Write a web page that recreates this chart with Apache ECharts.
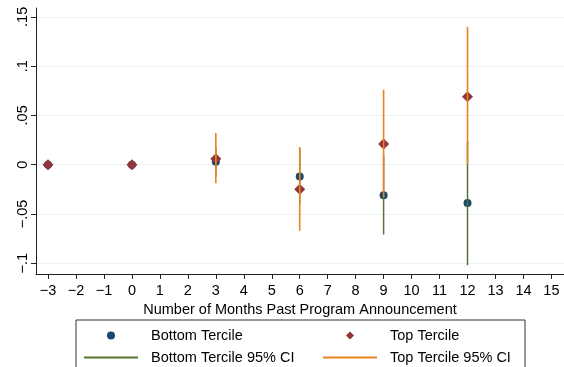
<!DOCTYPE html>
<html>
<head>
<meta charset="utf-8">
<script src="https://cdn.jsdelivr.net/npm/echarts@6/dist/echarts.min.js"></script>
<style>
  html, body { margin: 0; padding: 0; background: #fff; }
  #chart { width: 564px; height: 367px; }
</style>
</head>
<body>
<div id="chart"></div>
<script>
// months relative to announcement
var months = [-3, 0, 3, 6, 9, 12];
// point estimates
var bottomTercile = [0, 0, 0.003, -0.012, -0.031, -0.039];
var topTercile = [0, 0, 0.006, -0.025, 0.021, 0.069];
// 95% CI bounds (only for months 3..12)
var ciMonths = [3, 6, 9, 12];
var bottomLo = [-0.012, -0.040, -0.071, -0.102];
var bottomHi = [0.018, 0.016, 0.009, 0.024];
var topLo = [-0.019, -0.067, -0.033, 0.000];
var topHi = [0.032, 0.018, 0.076, 0.140];
// tick labels
var xTicks = [-3, -2, -1, 0, 1, 2, 3, 4, 5, 6, 7, 8, 9, 10, 11, 12, 13, 14, 15];
var yTicks = [-0.1, -0.05, 0, 0.05, 0.1, 0.15];
var yTickLabels = ['\u2212.1', '\u2212.05', '0', '.05', '.1', '.15'];

var font = '"Liberation Sans", Arial, sans-serif';
var fs = 14.5;
var diamondIcon = 'path://M5,0L10,5L5,10L0,5Z';

function pairs(xs, ys) {
  return xs.map(function (x, i) { return [x, ys[i]]; });
}
function ciSegments(xs, lo, hi) {
  var out = [];
  xs.forEach(function (x, i) {
    out.push([x, lo[i]], [x, hi[i]], [x, '-']);
  });
  return out;
}

var legendBase = {
  orient: 'vertical',
  top: 323,
  height: 60,
  itemWidth: 54,
  itemHeight: 8,
  itemGap: 7,
  symbolKeepAspect: true,
  textStyle: { color: '#000', fontFamily: font, fontSize: fs, padding: [0, 0, 0, 8] }
};

var chart = echarts.init(document.getElementById('chart'));
chart.setOption({
  animation: false,
  backgroundColor: '#fff',
  grid: { left: 36, right: 0, top: 8, bottom: 93 },
  xAxis: {
    type: 'value',
    min: -3.43,
    max: 15.45,
    name: 'Number of Months Past Program Announcement',
    nameLocation: 'middle',
    nameGap: 22,
    nameTextStyle: { color: '#000', fontFamily: font, fontSize: fs },
    axisLine: { onZero: false, lineStyle: { color: '#222', width: 1 } },
    axisTick: { customValues: xTicks, length: 5, lineStyle: { color: '#222' } },
    axisLabel: {
      customValues: xTicks,
      color: '#000', fontFamily: font, fontSize: fs, margin: 9,
      formatter: function (v) { return v < 0 ? '\u2212' + Math.abs(v) : String(v); }
    },
    splitLine: { show: false }
  },
  yAxis: {
    type: 'value',
    min: -0.111,
    max: 0.159,
    axisLine: { show: true, onZero: false, lineStyle: { color: '#222', width: 1 } },
    axisTick: { show: true, customValues: yTicks, length: 5, lineStyle: { color: '#222' } },
    axisLabel: {
      customValues: yTicks,
      rotate: 90,
      color: '#000', fontFamily: font, fontSize: fs, margin: 6,
      formatter: function (v) {
        var i = yTicks.findIndex(function (t) { return Math.abs(t - v) < 1e-9; });
        return i >= 0 ? yTickLabels[i] : '';
      }
    },
    splitLine: { show: true, lineStyle: { color: '#eaf2f3', width: 1.2 } }
  },
  legend: [
    Object.assign({}, legendBase, {
      left: 78,
      data: ['Bottom Tercile', { name: 'Bottom Tercile 95% CI', itemStyle: { opacity: 0 } }]
    }),
    Object.assign({}, legendBase, {
      left: 317,
      data: [{ name: 'Top Tercile', icon: diamondIcon }, { name: 'Top Tercile 95% CI', itemStyle: { opacity: 0 } }]
    })
  ],
  graphic: [{
    type: 'rect',
    shape: { x: 76, y: 320, width: 449, height: 60 },
    style: { fill: 'none', stroke: '#333', lineWidth: 1 },
    silent: true
  }],
  series: [{
    name: 'Bottom Tercile',
    type: 'scatter',
    symbol: 'circle',
    symbolSize: 8,
    itemStyle: { color: '#1a476f', opacity: 1 },
    data: pairs(months, bottomTercile),
    z: 2
  }, {
    name: 'Top Tercile',
    type: 'scatter',
    symbol: 'diamond',
    symbolSize: [11, 11],
    itemStyle: { color: '#90353b', opacity: 1 },
    data: pairs(months, topTercile),
    z: 3
  }, {
    name: 'Bottom Tercile 95% CI',
    type: 'line',
    symbol: 'none',
    connectNulls: false,
    lineStyle: { color: '#55752f', width: 1.5 },
    itemStyle: { color: '#55752f' },
    data: ciSegments(ciMonths, bottomLo, bottomHi),
    z: 4
  }, {
    name: 'Top Tercile 95% CI',
    type: 'line',
    symbol: 'none',
    connectNulls: false,
    lineStyle: { color: '#e8841f', width: 1.6 },
    itemStyle: { color: '#e8841f' },
    data: ciSegments(ciMonths, topLo, topHi),
    z: 5
  }]
});
</script>
</body>
</html>
